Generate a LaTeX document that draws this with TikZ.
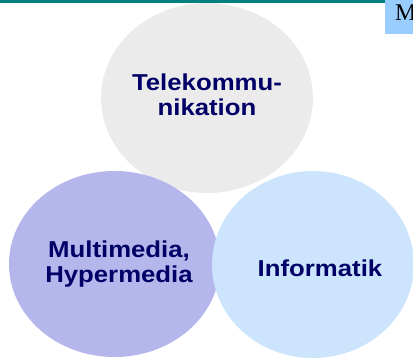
\documentclass[tikz,border=0pt]{standalone}
\usepackage{fontspec}
\usetikzlibrary{shapes.geometric}
\newfontfamily\bubblefont[FakeStretch=1.12]{Liberation Sans}
\newfontfamily\tabfont{Liberation Serif}
\definecolor{barteal}{RGB}{0,128,128}
\definecolor{tabblue}{RGB}{153,204,255}
\definecolor{telegray}{RGB}{235,235,235}
\definecolor{mmpurple}{RGB}{180,182,236}
\definecolor{infoblue}{RGB}{204,228,252}
\definecolor{labelnavy}{RGB}{0,0,102}
\tikzset{
  bubble/.style={ellipse, inner sep=0pt, align=center, text=labelnavy,
    font=\bubblefont\bfseries\fontsize{23}{25}\selectfont},
}
\begin{document}
\begin{tikzpicture}[x=1pt,y=-1pt]
  \useasboundingbox (0,0) rectangle (413,360);
  \begin{scope}
    \clip (0,0) rectangle (413,360);
    % header bar and tab
    \fill[barteal] (0,0) rectangle (385,3);
    \node[fill=tabblue, anchor=north west, minimum width=40pt, minimum height=34pt,
      inner sep=0pt] (tab) at (385,0) {};
    \node[anchor=base west, inner sep=0pt, font=\tabfont\fontsize{24}{24}\selectfont]
      (tabtext) at (395,20) {M};
    % overlapping topic bubbles
    \node[bubble, fill=telegray, minimum width=212pt, minimum height=190pt]
      (tele) at (207,98) {};
    \node[bubble, fill=mmpurple, minimum width=211pt, minimum height=186pt]
      (mm) at (114.5,264) {};
    \node[bubble, fill=infoblue, minimum width=202pt, minimum height=187pt]
      (info) at (313,264.5) {};
    % labels
    \node[bubble] (teletext) at (207,95) {Telekommu-\\nikation};
    \node[bubble] (mmtext) at (119,264) {Multimedia,\\Hypermedia};
    \node[bubble] (infotext) at (320,268) {Informatik};
  \end{scope}
\end{tikzpicture}
\end{document}
